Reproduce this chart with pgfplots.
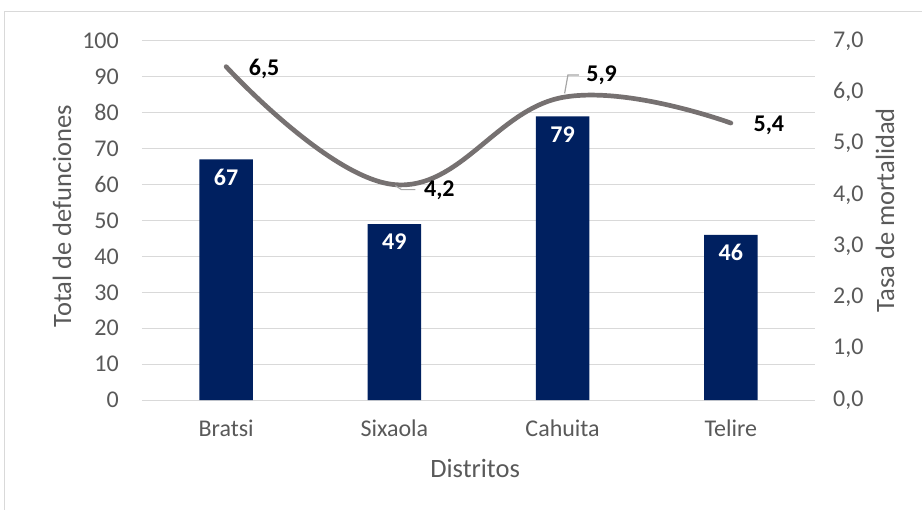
\documentclass[border=0pt]{standalone}
\usepackage{pgfplots}
\pgfplotsset{compat=1.18}
\usepackage{fontspec}
\setmainfont{Carlito}
\definecolor{navy}{RGB}{0,32,96}
\definecolor{linec}{RGB}{118,113,113}
\definecolor{gridc}{RGB}{217,217,217}
\definecolor{txt}{RGB}{89,89,89}
\definecolor{leader}{RGB}{166,166,166}
\begin{document}
\begin{tikzpicture}
\path[use as bounding box] (-142bp,-110bp) rectangle (780bp,400bp);
\draw[gridc, line width=1bp] (-137bp,-110bp) -- (-137bp,388bp) -- (780bp,388bp);
\begin{axis}[
  at={(0,0)}, anchor=south west,
  scale only axis, width=673bp, height=359bp,
  xmin=-0.5, xmax=3.5, ymin=0, ymax=100,
  axis line style={draw=none},
  major tick length=0pt,
  ytick={0,10,...,100},
  ymajorgrids, grid style={gridc, line width=1bp},
  xtick={0,1,2,3},
  xticklabels={Bratsi,Sixaola,Cahuita,Telire},
  /pgf/number format/assume math mode=true,
  tick label style={font=\fontsize{24bp}{28bp}\selectfont, text=txt},
  yticklabel style={inner sep=0pt, anchor=east, xshift=-23bp},
  xticklabel style={inner sep=0pt, anchor=north, yshift=-20bp},
  xlabel={Distritos},
  ylabel={Total de defunciones},
  label style={font=\fontsize{26.5bp}{30bp}\selectfont, text=txt, inner sep=0pt},
  xlabel style={at={(axis description cs:0.495,0)}, anchor=north, yshift=-59bp},
  ylabel style={at={(axis description cs:-0.1189,0.5125)}, anchor=center},
  clip=false,
]
\addplot[ybar, bar width=53.5bp, fill=navy, draw=none,
  nodes near coords,
  nodes near coords style={anchor=center, yshift=-18bp, inner sep=0pt, text=white, font=\fontsize{24bp}{28bp}\selectfont\bfseries},
] table {
x y
0 67
1 49
2 79
3 46
};
\end{axis}
\begin{axis}[
  at={(0,0)}, anchor=south west,
  scale only axis, width=673bp, height=359bp,
  xmin=-0.5, xmax=3.5, ymin=0, ymax=7,
  axis line style={draw=none},
  major tick length=0pt,
  xtick=\empty,
  ytick={0,1,...,7},
  yticklabel pos=right,
  /pgf/number format/assume math mode=true,
  yticklabel={\pgfmathprintnumber[fixed,fixed zerofill,precision=1,use comma]{\tick}},
  tick label style={font=\fontsize{24bp}{28bp}\selectfont, text=txt},
  yticklabel style={inner sep=0pt, anchor=west, xshift=18bp},
  ylabel={Tasa de mortalidad},
  label style={font=\fontsize{26.5bp}{30bp}\selectfont, text=txt, inner sep=0pt},
  ylabel style={at={(axis description cs:1.104,0.529)}, anchor=center},
  clip=false,
]
\addplot[linec, line width=4.7bp, smooth, tension=0.7, line cap=round,
  visualization depends on={\thisrow{dx}\as\dx},
  visualization depends on={\thisrow{dy}\as\dy},
  nodes near coords={\pgfmathprintnumber[fixed,fixed zerofill,precision=1,use comma]{\pgfplotspointmeta}},
  nodes near coords style={anchor=center, xshift=\dx bp, yshift=\dy bp, inner sep=0pt, text=black, font=\fontsize{24bp}{28bp}\selectfont\bfseries},
] table {
x y dx dy
0 6.5 38 -2.4
1 4.2 45 -6
2 5.9 39 21.7
3 5.4 38 -2.5
};
\draw[leader, line width=1.2bp] ([xshift=1bp,yshift=-1bp]axis cs:1,4.2) -- ++(6bp,-4bp) -- ++(14bp,0bp);
\draw[leader, line width=1.2bp] ([xshift=2bp,yshift=4bp]axis cs:2,5.9) -- ++(3.3bp,18.4bp) -- ++(11bp,0bp);
\end{axis}
\end{tikzpicture}
\end{document}
